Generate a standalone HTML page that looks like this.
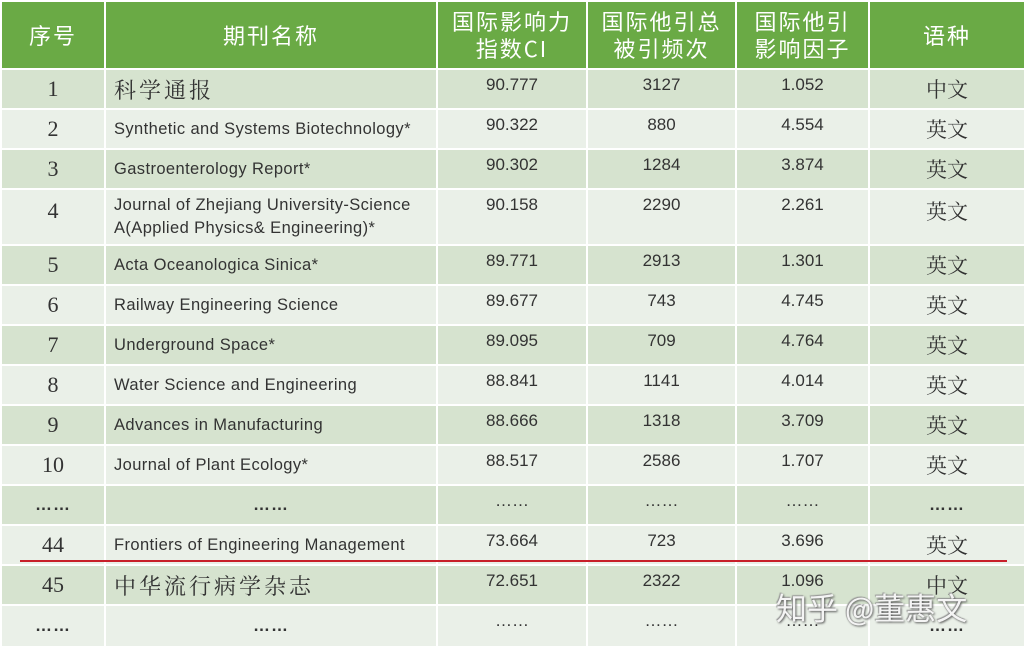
<!DOCTYPE html>
<html><head><meta charset="utf-8"><style>
body{margin:0;width:1024px;height:648px;background:#fff;overflow:hidden;position:relative;font-family:"Liberation Sans","Noto Sans CJK SC",sans-serif}
table{position:absolute;left:0;top:0;border-collapse:collapse;table-layout:fixed;width:1024px}
td,th{border:2px solid #fff;padding:0;overflow:hidden}
th{background:#6aaa45;color:#fff;font-weight:normal;font-size:22px;line-height:27px;height:66px;font-family:"Noto Sans CJK SC",sans-serif;letter-spacing:2px}
tr.d td{background:#d6e3cf}
tr.l td{background:#eaf0e8}
td{color:#333;font-size:17px}
td.n{text-align:center;font-family:"Liberation Serif",serif;font-size:22px;color:#333}
td.t{padding-left:8px;font-size:16.5px;line-height:23px;letter-spacing:0.4px}
td.t.cn{font-family:"Noto Serif CJK SC",serif;font-size:22px;letter-spacing:3px}
td.v{text-align:center;vertical-align:top;padding-top:5px;font-size:17px}
td.g{text-align:center;font-family:"Noto Serif CJK SC",serif;font-size:21px}
td.dots{text-align:center;font-weight:bold;letter-spacing:1px}
#red{position:absolute;left:20px;top:560px;width:987px;height:2px;background:#c8202a}
#wm{position:absolute;left:776px;top:584px;font-size:31px;color:#f4f4f4;text-shadow:1px 1px 2px #555,-1px -1px 1px #999;font-family:"Noto Sans CJK SC",sans-serif}
</style></head><body>
<table>
<colgroup><col style="width:104px"><col style="width:332px"><col style="width:150px"><col style="width:149px"><col style="width:133px"><col style="width:156px"></colgroup>
<tr><th>序号</th><th>期刊名称</th><th>国际影响力<br>指数CI</th><th>国际他引总<br>被引频次</th><th>国际他引<br>影响因子</th><th>语种</th></tr>
<tr class="d" style="height:40px"><td class="n">1</td><td class="t cn">科学通报</td><td class="v">90.777</td><td class="v">3127</td><td class="v">1.052</td><td class="g">中文</td></tr>
<tr class="l" style="height:40px"><td class="n">2</td><td class="t">Synthetic and Systems Biotechnology*</td><td class="v">90.322</td><td class="v">880</td><td class="v">4.554</td><td class="g">英文</td></tr>
<tr class="d" style="height:40px"><td class="n">3</td><td class="t">Gastroenterology Report*</td><td class="v">90.302</td><td class="v">1284</td><td class="v">3.874</td><td class="g">英文</td></tr>
<tr class="l" style="height:56px"><td class="n" style="vertical-align:top;padding-top:8px">4</td><td class="t">Journal of Zhejiang University-Science A(Applied Physics&amp; Engineering)*</td><td class="v">90.158</td><td class="v">2290</td><td class="v">2.261</td><td class="g" style="vertical-align:top;padding-top:6px">英文</td></tr>
<tr class="d" style="height:40px"><td class="n">5</td><td class="t">Acta Oceanologica Sinica*</td><td class="v">89.771</td><td class="v">2913</td><td class="v">1.301</td><td class="g">英文</td></tr>
<tr class="l" style="height:40px"><td class="n">6</td><td class="t">Railway Engineering Science</td><td class="v">89.677</td><td class="v">743</td><td class="v">4.745</td><td class="g">英文</td></tr>
<tr class="d" style="height:40px"><td class="n">7</td><td class="t">Underground Space*</td><td class="v">89.095</td><td class="v">709</td><td class="v">4.764</td><td class="g">英文</td></tr>
<tr class="l" style="height:40px"><td class="n">8</td><td class="t">Water Science and Engineering</td><td class="v">88.841</td><td class="v">1141</td><td class="v">4.014</td><td class="g">英文</td></tr>
<tr class="d" style="height:40px"><td class="n">9</td><td class="t">Advances in Manufacturing</td><td class="v">88.666</td><td class="v">1318</td><td class="v">3.709</td><td class="g">英文</td></tr>
<tr class="l" style="height:40px"><td class="n">10</td><td class="t">Journal of Plant Ecology*</td><td class="v">88.517</td><td class="v">2586</td><td class="v">1.707</td><td class="g">英文</td></tr>
<tr class="d" style="height:40px"><td class="dots">……</td><td class="dots">……</td><td class="v">……</td><td class="v">……</td><td class="v">……</td><td class="dots">……</td></tr>
<tr class="l" style="height:40px"><td class="n">44</td><td class="t">Frontiers of Engineering Management</td><td class="v">73.664</td><td class="v">723</td><td class="v">3.696</td><td class="g">英文</td></tr>
<tr class="d" style="height:40px"><td class="n">45</td><td class="t cn">中华流行病学杂志</td><td class="v">72.651</td><td class="v">2322</td><td class="v">1.096</td><td class="g">中文</td></tr>
<tr class="l" style="height:42px"><td class="dots">……</td><td class="dots">……</td><td class="v">……</td><td class="v">……</td><td class="v">……</td><td class="dots">……</td></tr>
</table>
<div id="red"></div>
<div id="wm">知乎 @董惠文</div>
</body></html>
